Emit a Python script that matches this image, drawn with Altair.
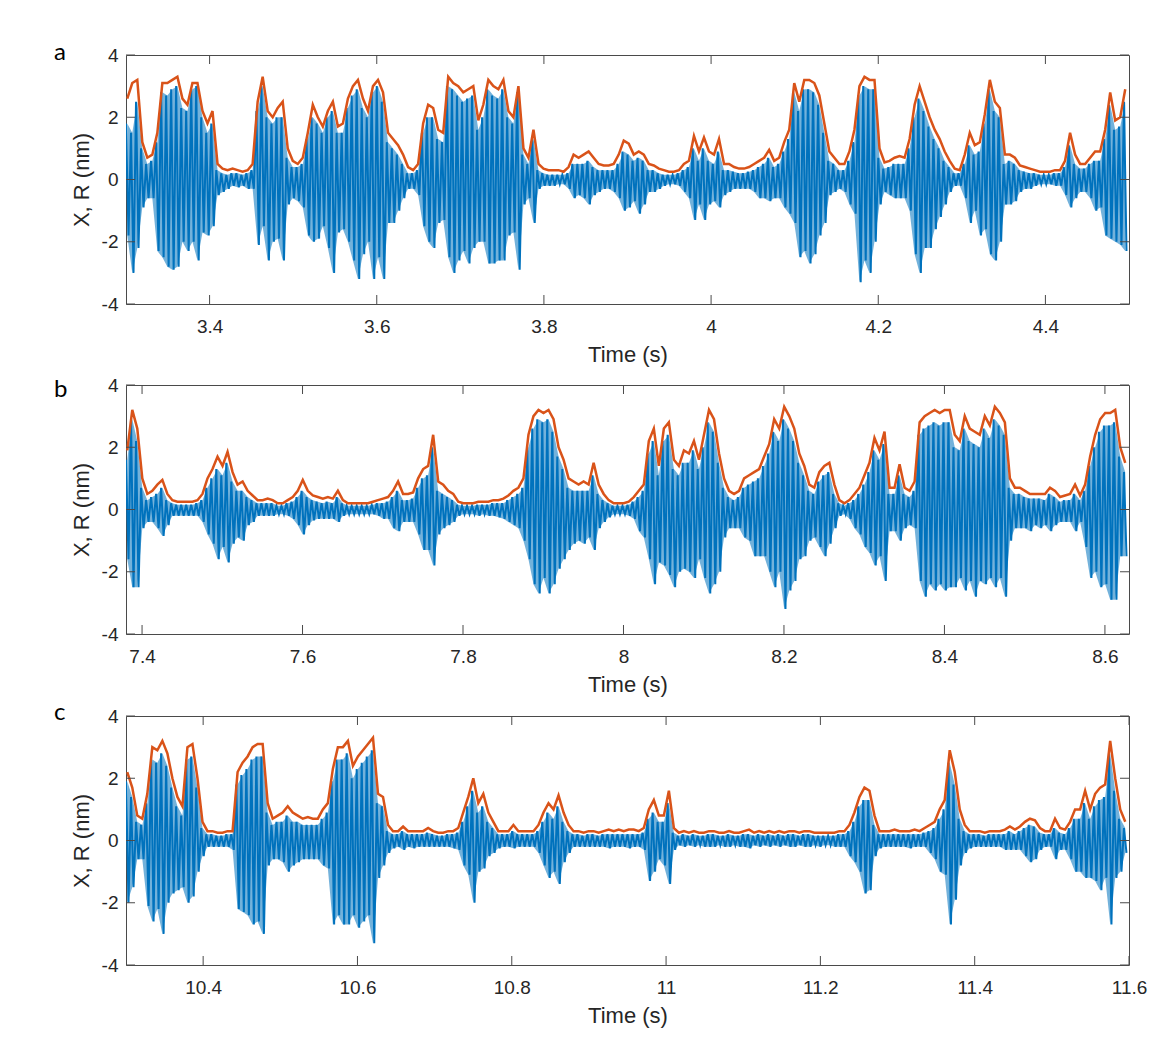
import altair as alt
import pandas as pd

BLUE = "#0072BD"
ORANGE = "#D95319"
INK = "#262626"
FRAME = "#4a4a4a"
FONT = "Liberation Sans"

Y_TICKS = [-4, -2, 0, 2, 4]

# ---- panel a: 3.3 s to 4.5 s, one envelope sample every 6 ms ----
A_START, A_STEP, A_DOMAIN = 3.3, 0.006, [3.3, 4.5]
A_TICKS = [3.4, 3.6, 3.8, 4.0, 4.2, 4.4]
A_R = [2.6, 3.1, 3.2, 1.2, 0.7, 0.8, 1.5, 3.1, 3.1, 3.2,
       3.3, 2.6, 2.4, 3.1, 3.1, 2.2, 1.8, 2.2, 0.5, 0.35,
       0.3, 0.35, 0.3, 0.25, 0.3, 0.5, 2.5, 3.3, 2.2, 2.0,
       2.3, 2.5, 1.0, 0.6, 0.5, 0.7, 1.5, 2.4, 2.0, 1.7,
       2.2, 2.5, 1.7, 1.8, 2.6, 3.0, 3.2, 2.6, 2.2, 3.0,
       3.2, 2.8, 1.5, 1.3, 1.1, 0.8, 0.4, 0.3, 0.5, 1.8,
       2.4, 2.3, 1.6, 1.5, 3.3, 3.1, 3.0, 2.8, 2.9, 3.0,
       1.9, 2.4, 3.2, 3.0, 2.9, 3.2, 2.2, 2.0, 3.0, 1.0,
       0.7, 1.6, 0.5, 0.35, 0.3, 0.3, 0.3, 0.25, 0.4, 0.8,
       0.7, 0.8, 0.9, 0.7, 0.5, 0.45, 0.45, 0.5, 0.8, 1.25,
       1.15, 0.8, 0.9, 0.8, 0.5, 0.45, 0.35, 0.3, 0.25, 0.25,
       0.3, 0.5, 0.6, 1.4, 0.9, 1.35, 0.9, 0.8, 1.3, 0.5,
       0.5, 0.4, 0.35, 0.35, 0.4, 0.5, 0.6, 0.7, 0.95, 0.6,
       0.7, 1.2, 1.6, 3.1, 2.5, 3.2, 3.2, 3.1, 2.7, 1.8,
       0.9, 0.7, 0.5, 0.5, 0.9, 1.6, 3.0, 3.3, 3.2, 3.2,
       1.0, 0.55, 0.6, 0.7, 0.75, 0.7, 1.3, 2.4, 3.0, 2.5,
       2.0, 1.6, 1.3, 0.9, 0.6, 0.35, 0.3, 0.8, 1.5, 1.1,
       1.2, 2.1, 3.2, 2.5, 2.3, 0.8, 0.8, 0.7, 0.45, 0.4,
       0.35, 0.3, 0.25, 0.25, 0.25, 0.3, 0.3, 0.6, 1.5, 0.8,
       0.5, 0.5, 0.7, 0.9, 0.9, 1.6, 2.8, 1.9, 2.0, 2.9]
A_HI = [1.8, 1.5, 2.5, 1.0, 0.5, 0.6, 1.2, 2.8, 2.7, 2.9,
        3.0, 2.3, 2.2, 2.9, 3.0, 2.0, 1.5, 1.8, 0.3, 0.2,
        0.15, 0.2, 0.2, 0.15, 0.2, 0.3, 2.2, 3.0, 2.0, 1.8,
        2.0, 2.0, 0.7, 0.4, 0.4, 0.5, 1.3, 2.0, 1.8, 1.5,
        2.0, 2.2, 1.5, 1.5, 2.3, 2.7, 2.9, 2.3, 2.0, 2.8,
        3.0, 2.5, 1.2, 1.0, 0.8, 0.5, 0.2, 0.2, 0.3, 1.5,
        2.0, 2.0, 1.3, 1.2, 3.0, 2.9, 2.7, 2.5, 2.6, 2.7,
        1.6, 2.0, 2.9, 2.7, 2.6, 2.9, 2.0, 1.8, 2.8, 0.8,
        0.5, 1.3, 0.3, 0.2, 0.15, 0.15, 0.15, 0.15, 0.2, 0.5,
        0.5, 0.5, 0.6, 0.4, 0.3, 0.3, 0.3, 0.3, 0.5, 0.9,
        0.8, 0.6, 0.7, 0.6, 0.3, 0.3, 0.2, 0.15, 0.15, 0.15,
        0.2, 0.3, 0.4, 1.0, 0.6, 1.0, 0.6, 0.5, 0.9, 0.3,
        0.3, 0.25, 0.2, 0.2, 0.25, 0.3, 0.4, 0.5, 0.7, 0.4,
        0.5, 0.9, 1.3, 2.8, 2.2, 2.9, 2.9, 2.8, 2.4, 1.5,
        0.6, 0.5, 0.3, 0.3, 0.6, 1.2, 2.7, 3.0, 2.9, 2.9,
        0.7, 0.35, 0.4, 0.5, 0.5, 0.5, 1.0, 2.0, 2.6, 2.2,
        1.7, 1.3, 1.0, 0.6, 0.4, 0.2, 0.2, 0.5, 1.1, 0.8,
        0.9, 1.8, 2.9, 2.2, 2.0, 0.5, 0.6, 0.5, 0.3, 0.25,
        0.2, 0.2, 0.15, 0.15, 0.15, 0.2, 0.2, 0.4, 1.1, 0.5,
        0.35, 0.35, 0.5, 0.6, 0.6, 1.3, 2.4, 1.6, 1.7, 2.5]
A_LO = [-1.8, -3.0, -2.2, -0.9, -0.6, -0.6, -2.3, -2.5, -2.8, -2.9,
        -2.8, -2.0, -2.3, -2.0, -2.6, -1.7, -1.8, -1.5, -0.5, -0.4,
        -0.3, -0.2, -0.25, -0.2, -0.3, -0.3, -2.1, -1.5, -2.6, -2.0,
        -1.9, -2.6, -0.8, -0.6, -0.7, -0.9, -1.8, -2.0, -1.9, -1.5,
        -2.2, -3.0, -1.7, -1.6, -2.0, -2.6, -3.2, -2.4, -2.0, -3.2,
        -2.5, -3.2, -1.4, -1.4, -1.0, -0.6, -0.3, -0.3, -0.5, -1.5,
        -2.0, -2.2, -1.4, -1.3, -2.5, -3.0, -2.6, -2.3, -2.7, -2.2,
        -2.0, -2.0, -2.7, -2.7, -2.6, -2.6, -1.8, -1.7, -2.9, -0.8,
        -0.6, -1.4, -0.3, -0.2, -0.2, -0.2, -0.15, -0.15, -0.3, -0.6,
        -0.5, -0.6, -0.8, -0.5, -0.4, -0.3, -0.3, -0.4, -0.6, -1.0,
        -0.9, -0.7, -1.1, -0.8, -0.4, -0.4, -0.3, -0.2, -0.15, -0.15,
        -0.2, -0.4, -0.6, -1.3, -0.8, -1.3, -0.8, -0.7, -0.9, -0.5,
        -0.4, -0.3, -0.3, -0.3, -0.3, -0.4, -0.6, -0.6, -0.7, -0.6,
        -0.6, -0.9, -1.1, -1.4, -2.5, -2.3, -2.7, -2.4, -1.8, -1.4,
        -0.5, -0.4, -0.3, -0.4, -0.8, -1.1, -3.3, -2.6, -3.0, -2.0,
        -0.8, -0.4, -0.5, -0.6, -0.6, -0.6, -1.0, -2.4, -3.0, -2.2,
        -2.2, -1.6, -1.2, -0.8, -0.4, -0.2, -0.2, -0.6, -1.4, -1.0,
        -1.8, -1.6, -2.4, -2.6, -2.0, -0.8, -0.8, -0.7, -0.4, -0.3,
        -0.3, -0.2, -0.15, -0.15, -0.15, -0.2, -0.2, -0.5, -0.9, -0.6,
        -0.4, -0.4, -0.6, -1.0, -0.9, -1.8, -1.9, -2.0, -2.1, -2.3]

# ---- panel b: 7.38 s to 8.63 s, one envelope sample every 6.25 ms ----
B_START, B_STEP, B_DOMAIN = 7.38, 0.00625, [7.38, 8.63]
B_TICKS = [7.4, 7.6, 7.8, 8.0, 8.2, 8.4, 8.6]
B_R = [1.9, 3.2, 2.6, 1.0, 0.5, 0.6, 0.8, 0.95, 0.5, 0.3,
       0.25, 0.25, 0.25, 0.25, 0.3, 0.5, 1.0, 1.3, 1.7, 1.4,
       1.85, 1.2, 0.8, 0.9, 0.6, 0.45, 0.3, 0.3, 0.35, 0.3,
       0.2, 0.2, 0.3, 0.4, 0.6, 0.95, 0.6, 0.45, 0.4, 0.35,
       0.4, 0.35, 0.6, 0.3, 0.2, 0.2, 0.2, 0.2, 0.2, 0.25,
       0.3, 0.35, 0.4, 0.6, 0.9, 0.5, 0.5, 0.55, 1.0, 1.3,
       1.4, 2.4, 0.9, 0.8, 0.6, 0.5, 0.25, 0.2, 0.2, 0.2,
       0.25, 0.25, 0.25, 0.3, 0.3, 0.35, 0.45, 0.6, 0.7, 1.0,
       2.4, 3.0, 3.2, 3.1, 3.2, 2.9, 2.0, 1.6, 1.0, 0.9,
       0.8, 0.9, 0.8, 1.5, 0.8, 0.5, 0.3, 0.2, 0.2, 0.2,
       0.25, 0.4, 0.6, 0.8, 2.2, 2.6, 1.4, 2.6, 2.8, 1.6,
       1.4, 1.9, 1.8, 2.2, 1.6, 2.4, 3.2, 2.9, 1.8, 1.0,
       0.6, 0.5, 0.6, 1.0, 1.1, 1.2, 1.3, 1.7, 2.1, 2.9,
       2.6, 3.3, 3.0, 2.6, 1.8, 1.4, 0.8, 0.7, 1.2, 1.4,
       1.5, 0.8, 0.3, 0.2, 0.3, 0.5, 0.7, 1.1, 1.5, 2.3,
       1.9, 2.5, 0.7, 0.7, 1.45, 0.7, 0.6, 0.9, 2.8, 3.0,
       3.1, 3.2, 3.1, 3.2, 3.2, 2.4, 2.2, 3.0, 2.6, 2.5,
       2.4, 3.0, 2.7, 3.3, 3.1, 2.8, 1.0, 0.7, 0.7, 0.6,
       0.5, 0.5, 0.5, 0.5, 0.7, 0.6, 0.4, 0.45, 0.5, 0.8,
       0.45, 0.8, 1.7, 2.4, 2.9, 3.1, 3.1, 3.2, 2.0, 1.5]
B_HI = [1.6, 2.9, 2.2, 0.7, 0.3, 0.4, 0.5, 0.7, 0.3, 0.2,
        0.15, 0.15, 0.15, 0.15, 0.2, 0.3, 0.7, 1.0, 1.3, 1.1,
        1.5, 0.9, 0.6, 0.6, 0.4, 0.3, 0.2, 0.2, 0.2, 0.2,
        0.12, 0.12, 0.2, 0.25, 0.4, 0.6, 0.4, 0.3, 0.25, 0.2,
        0.25, 0.2, 0.4, 0.2, 0.12, 0.12, 0.12, 0.12, 0.12, 0.15,
        0.2, 0.2, 0.25, 0.4, 0.6, 0.3, 0.3, 0.35, 0.7, 1.0,
        1.1, 2.0, 0.6, 0.5, 0.4, 0.3, 0.15, 0.12, 0.12, 0.12,
        0.15, 0.15, 0.15, 0.2, 0.2, 0.2, 0.3, 0.4, 0.5, 0.7,
        2.0, 2.6, 2.9, 2.8, 2.9, 2.5, 1.7, 1.3, 0.7, 0.6,
        0.6, 0.6, 0.6, 1.1, 0.5, 0.3, 0.2, 0.12, 0.12, 0.12,
        0.15, 0.25, 0.4, 0.6, 1.8, 2.2, 1.1, 2.2, 2.4, 1.3,
        1.1, 1.5, 1.5, 1.9, 1.3, 2.0, 2.8, 2.5, 1.5, 0.7,
        0.4, 0.3, 0.4, 0.7, 0.8, 0.9, 1.0, 1.4, 1.8, 2.5,
        2.2, 2.9, 2.6, 2.2, 1.5, 1.1, 0.6, 0.5, 0.9, 1.1,
        1.2, 0.5, 0.2, 0.12, 0.2, 0.3, 0.5, 0.8, 1.2, 1.9,
        1.6, 2.1, 0.5, 0.5, 1.1, 0.5, 0.4, 0.6, 2.4, 2.6,
        2.7, 2.8, 2.7, 2.8, 2.8, 2.0, 1.9, 2.6, 2.2, 2.1,
        2.0, 2.6, 2.3, 2.9, 2.7, 2.4, 0.7, 0.5, 0.5, 0.4,
        0.35, 0.35, 0.35, 0.3, 0.5, 0.4, 0.25, 0.3, 0.3, 0.5,
        0.3, 0.6, 1.4, 2.0, 2.5, 2.7, 2.7, 2.8, 1.7, 1.2]
B_LO = [-1.6, -2.5, -2.5, -0.6, -0.4, -0.4, -0.6, -0.85, -0.5, -0.2,
        -0.2, -0.2, -0.2, -0.2, -0.2, -0.4, -0.8, -1.1, -1.6, -1.2,
        -1.7, -1.1, -0.9, -1.0, -0.5, -0.4, -0.2, -0.2, -0.2, -0.2,
        -0.15, -0.15, -0.2, -0.3, -0.5, -0.8, -0.5, -0.35, -0.3, -0.3,
        -0.3, -0.3, -0.4, -0.2, -0.15, -0.15, -0.15, -0.15, -0.15, -0.15,
        -0.2, -0.3, -0.3, -0.6, -0.7, -0.4, -0.4, -0.4, -0.8, -1.3,
        -1.3, -1.8, -0.8, -0.6, -0.5, -0.4, -0.2, -0.15, -0.15, -0.15,
        -0.2, -0.15, -0.2, -0.2, -0.25, -0.3, -0.4, -0.5, -0.6, -1.0,
        -1.6, -2.4, -2.7, -2.2, -2.7, -2.4, -1.9, -1.6, -1.3, -1.1,
        -1.0, -1.1, -0.9, -1.3, -0.6, -0.4, -0.25, -0.15, -0.15, -0.15,
        -0.2, -0.3, -0.7, -0.9, -1.6, -2.4, -1.7, -1.8, -2.1, -2.5,
        -2.0, -1.9, -2.0, -2.2, -1.6, -2.2, -2.7, -2.4, -2.0, -0.9,
        -0.6, -0.6, -0.6, -0.9, -1.0, -1.5, -1.5, -1.5, -2.0, -2.5,
        -2.0, -3.2, -2.6, -2.3, -1.6, -1.5, -1.0, -0.9, -1.2, -1.5,
        -1.1, -0.6, -0.2, -0.15, -0.3, -0.6, -0.8, -1.2, -1.4, -1.8,
        -1.5, -2.3, -0.7, -0.7, -1.0, -0.6, -0.5, -0.6, -2.3, -2.8,
        -2.4, -2.6, -2.4, -2.6, -2.5, -2.5, -2.2, -2.6, -2.3, -2.8,
        -2.3, -2.4, -2.2, -2.5, -2.2, -2.8, -1.0, -0.6, -0.6, -0.6,
        -0.7, -0.5, -0.6, -0.5, -0.7, -0.5, -0.4, -0.4, -0.4, -0.7,
        -0.4, -1.2, -2.2, -2.0, -2.5, -2.4, -2.9, -2.9, -1.5, -1.5]

# ---- panel c: 10.3 s to 11.6 s, one envelope sample every 6.5 ms ----
C_START, C_STEP, C_DOMAIN = 10.3, 0.0065, [10.3, 11.6]
C_TICKS = [10.4, 10.6, 10.8, 11.0, 11.2, 11.4, 11.6]
C_R = [2.2, 1.7, 0.8, 0.7, 1.5, 3.0, 2.9, 3.2, 2.8, 2.0,
       1.4, 1.1, 3.0, 3.1, 2.0, 0.6, 0.3, 0.3, 0.25, 0.25,
       0.3, 0.3, 2.2, 2.5, 2.7, 3.0, 3.1, 3.1, 1.2, 0.7,
       0.8, 0.9, 1.1, 0.9, 0.8, 0.7, 0.75, 0.7, 0.7, 1.0,
       1.2, 2.3, 3.0, 3.0, 3.2, 2.4, 2.7, 2.9, 3.1, 3.3,
       1.5, 1.4, 0.5, 0.3, 0.3, 0.45, 0.3, 0.3, 0.3, 0.3,
       0.4, 0.3, 0.25, 0.25, 0.3, 0.3, 0.4, 0.9, 1.4, 2.0,
       1.2, 1.5, 0.9, 0.6, 0.3, 0.3, 0.3, 0.5, 0.3, 0.3,
       0.3, 0.3, 0.5, 0.9, 1.2, 1.0, 1.45, 0.9, 0.5, 0.3,
       0.3, 0.25, 0.3, 0.3, 0.25, 0.3, 0.35, 0.3, 0.35, 0.3,
       0.35, 0.35, 0.3, 0.4, 1.0, 1.3, 0.8, 0.8, 1.6, 0.4,
       0.25, 0.3, 0.25, 0.3, 0.25, 0.25, 0.3, 0.3, 0.25, 0.25,
       0.3, 0.25, 0.25, 0.3, 0.35, 0.25, 0.3, 0.25, 0.3, 0.25,
       0.3, 0.25, 0.3, 0.3, 0.25, 0.3, 0.3, 0.25, 0.25, 0.25,
       0.25, 0.25, 0.3, 0.3, 0.5, 0.9, 1.4, 1.7, 1.6, 0.8,
       0.3, 0.3, 0.3, 0.35, 0.3, 0.3, 0.3, 0.35, 0.3, 0.4,
       0.5, 0.6, 1.0, 1.3, 2.9, 2.2, 1.0, 0.5, 0.3, 0.3,
       0.3, 0.25, 0.3, 0.3, 0.3, 0.35, 0.45, 0.35, 0.45, 0.6,
       0.7, 0.65, 0.4, 0.3, 0.3, 0.7, 0.4, 0.35, 0.6, 1.0,
       1.0, 1.6, 1.0, 1.5, 1.7, 1.8, 3.2, 2.0, 1.0, 0.6]
C_HI = [1.9, 1.4, 0.6, 0.5, 1.2, 2.6, 2.5, 2.8, 2.4, 1.7,
        1.1, 0.8, 2.6, 2.7, 1.7, 0.4, 0.2, 0.2, 0.15, 0.15,
        0.2, 0.2, 1.8, 2.1, 2.3, 2.6, 2.7, 2.7, 0.9, 0.5,
        0.6, 0.6, 0.8, 0.6, 0.6, 0.5, 0.5, 0.5, 0.5, 0.7,
        0.9, 1.9, 2.6, 2.6, 2.8, 2.0, 2.3, 2.5, 2.7, 2.9,
        1.2, 1.1, 0.3, 0.2, 0.2, 0.3, 0.2, 0.2, 0.2, 0.2,
        0.25, 0.2, 0.15, 0.15, 0.2, 0.2, 0.25, 0.6, 1.1, 1.6,
        0.9, 1.1, 0.6, 0.4, 0.2, 0.2, 0.2, 0.3, 0.2, 0.2,
        0.2, 0.2, 0.3, 0.6, 0.9, 0.7, 1.1, 0.6, 0.3, 0.2,
        0.2, 0.15, 0.2, 0.2, 0.15, 0.2, 0.2, 0.2, 0.2, 0.2,
        0.2, 0.2, 0.2, 0.25, 0.7, 0.9, 0.6, 0.6, 1.2, 0.25,
        0.15, 0.2, 0.15, 0.2, 0.15, 0.15, 0.2, 0.2, 0.15, 0.15,
        0.2, 0.15, 0.15, 0.2, 0.2, 0.15, 0.2, 0.15, 0.2, 0.15,
        0.2, 0.15, 0.2, 0.2, 0.15, 0.2, 0.2, 0.15, 0.15, 0.15,
        0.15, 0.15, 0.2, 0.2, 0.3, 0.6, 1.1, 1.3, 1.3, 0.5,
        0.2, 0.2, 0.2, 0.2, 0.2, 0.2, 0.2, 0.2, 0.2, 0.25,
        0.3, 0.4, 0.7, 1.0, 2.5, 1.8, 0.7, 0.3, 0.2, 0.2,
        0.2, 0.15, 0.2, 0.2, 0.2, 0.2, 0.3, 0.2, 0.3, 0.4,
        0.5, 0.45, 0.25, 0.2, 0.2, 0.4, 0.25, 0.2, 0.4, 0.7,
        0.7, 1.2, 0.7, 1.1, 1.3, 1.4, 2.8, 1.6, 0.7, 0.4]
C_LO = [-2.0, -1.5, -0.6, -0.6, -2.1, -2.6, -2.2, -3.0, -2.0, -1.7,
        -1.6, -1.5, -2.0, -1.8, -1.0, -0.5, -0.2, -0.2, -0.2, -0.2,
        -0.2, -0.3, -2.2, -2.3, -2.4, -2.7, -2.6, -3.0, -0.8, -0.6,
        -0.6, -0.7, -1.0, -0.8, -0.7, -0.6, -0.6, -0.6, -0.6, -0.8,
        -0.9, -2.7, -2.4, -2.7, -2.7, -2.4, -2.8, -2.6, -2.4, -3.3,
        -1.2, -0.8, -0.4, -0.25, -0.2, -0.3, -0.2, -0.25, -0.2, -0.2,
        -0.2, -0.2, -0.2, -0.2, -0.2, -0.25, -0.3, -0.8, -1.1, -2.0,
        -1.0, -0.9, -0.5, -0.4, -0.25, -0.2, -0.2, -0.25, -0.2, -0.2,
        -0.2, -0.2, -0.4, -0.8, -1.2, -1.0, -1.4, -0.7, -0.4, -0.2,
        -0.2, -0.2, -0.2, -0.2, -0.2, -0.2, -0.25, -0.2, -0.2, -0.2,
        -0.25, -0.2, -0.2, -0.3, -1.3, -1.0, -0.6, -0.8, -1.4, -0.3,
        -0.15, -0.2, -0.15, -0.2, -0.15, -0.2, -0.2, -0.2, -0.15, -0.2,
        -0.2, -0.15, -0.2, -0.2, -0.25, -0.15, -0.2, -0.15, -0.2, -0.15,
        -0.2, -0.15, -0.2, -0.2, -0.15, -0.2, -0.2, -0.15, -0.2, -0.15,
        -0.15, -0.2, -0.2, -0.2, -0.5, -0.7, -1.0, -1.7, -1.6, -0.5,
        -0.25, -0.2, -0.2, -0.2, -0.2, -0.2, -0.25, -0.2, -0.2, -0.2,
        -0.4, -0.6, -1.0, -1.1, -2.7, -1.9, -0.8, -0.4, -0.25, -0.2,
        -0.2, -0.2, -0.2, -0.2, -0.2, -0.3, -0.3, -0.3, -0.3, -0.5,
        -0.7, -0.6, -0.3, -0.2, -0.2, -0.6, -0.3, -0.3, -0.6, -1.0,
        -1.0, -1.2, -1.2, -1.3, -1.6, -1.2, -2.7, -1.2, -1.0, -0.4]

W, H, TICK = 1003, 249, 9


def traces(start, step, r, hi, lo):
    """X alternates between the upper and lower excursion of each sample window;
    R is the amplitude envelope of the same windows."""
    x_rows, band_rows = [], []
    for i, (h, l) in enumerate(zip(hi, lo)):
        x_rows.append({"t": start + i * step, "v": h})
        x_rows.append({"t": start + (i + 0.5) * step, "v": l})
        band_rows.append({"t": start + (i + 0.25) * step, "v": l, "v2": h})
    r_rows = [{"t": start + (i + 0.25) * step, "v": v} for i, v in enumerate(r)]
    return pd.DataFrame(x_rows), pd.DataFrame(band_rows), pd.DataFrame(r_rows)


def panel(label, label_dy, start, step, domain, ticks, r, hi, lo):
    xdf, bdf, rdf = traces(start, step, r, hi, lo)
    xsc = alt.Scale(domain=domain, nice=False, zero=False)
    ysc = alt.Scale(domain=[-4, 4], nice=False, zero=False)
    x_axis = alt.Axis(values=ticks, labelExpr="'' + datum.value", title="Time (s)",
                      grid=False, domain=False, ticks=False, labelFlush=False,
                      labelPadding=13, titlePadding=8, labelFontSize=19, titleFontSize=22,
                      labelFont=FONT, titleFont=FONT, labelColor=INK, titleColor=INK,
                      titleFontWeight="normal")
    y_axis = alt.Axis(values=Y_TICKS, labelExpr="'' + datum.value", title="X, R (nm)",
                      grid=False, domain=False, ticks=False, labelFlush=False,
                      labelPadding=8, titlePadding=8, labelFontSize=19, titleFontSize=22,
                      labelFont=FONT, titleFont=FONT, labelColor=INK, titleColor=INK,
                      titleFontWeight="normal")
    ex = alt.X("t:Q", scale=xsc, axis=x_axis)
    ey = alt.Y("v:Q", scale=ysc, axis=y_axis)

    band = alt.Chart(bdf).mark_area(color=BLUE, opacity=0.55, clip=True).encode(
        x=ex, y=ey, y2="v2:Q")
    x_line = alt.Chart(xdf).mark_line(color=BLUE, strokeWidth=2.0, clip=True).encode(x=ex, y=ey)
    r_line = alt.Chart(rdf).mark_line(color=ORANGE, strokeWidth=2.5, clip=True).encode(x=ex, y=ey)

    # inward tick marks on all four sides of the box
    xt = pd.DataFrame({"t": ticks})
    yt = pd.DataFrame({"v": Y_TICKS})
    top = alt.Chart(xt).mark_rule(color=FRAME).encode(x=ex, y=alt.value(0), y2=alt.value(TICK))
    bottom = alt.Chart(xt).mark_rule(color=FRAME).encode(x=ex, y=alt.value(H), y2=alt.value(H - TICK))
    left = alt.Chart(yt).mark_rule(color=FRAME).encode(y=ey, x=alt.value(0), x2=alt.value(TICK))
    right = alt.Chart(yt).mark_rule(color=FRAME).encode(y=ey, x=alt.value(W), x2=alt.value(W - TICK))

    # panel letter in the top-left corner
    letter = alt.Chart(pd.DataFrame({"label": [label]})).mark_text(
        font="Lato", fontSize=24, color="black", align="left", baseline="alphabetic"
    ).encode(text="label:N", x=alt.value(-72), y=alt.value(label_dy))

    return alt.layer(band, x_line, r_line, top, bottom, left, right, letter).properties(
        width=W, height=H)


pa = panel("a", 5, A_START, A_STEP, A_DOMAIN, A_TICKS, A_R, A_HI, A_LO)
pb = panel("b", 12, B_START, B_STEP, B_DOMAIN, B_TICKS, B_R, B_HI, B_LO)
pc = panel("c", 4, C_START, C_STEP, C_DOMAIN, C_TICKS, C_R, C_HI, C_LO)

upper = alt.vconcat(pa, pb, spacing=9).resolve_scale(x="independent", y="independent")
chart = (
    alt.vconcat(upper, pc, spacing=4)
    .resolve_scale(x="independent", y="independent")
    .properties(padding={"left": 53, "top": 40, "right": 10, "bottom": 10})
    .configure(background="white")
    .configure_view(stroke=FRAME, strokeWidth=1)
)

chart.save("out.html", embed_options={"renderer": "svg", "actions": False})
